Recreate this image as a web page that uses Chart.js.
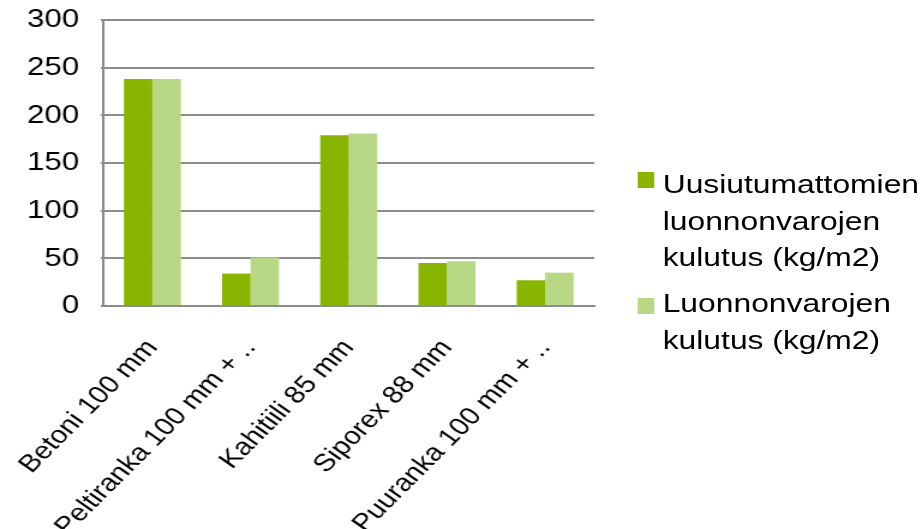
<!DOCTYPE html>
<html>
<head>
<meta charset="utf-8">
<script src="https://cdn.jsdelivr.net/npm/chart.js@4"></script>
<style>
    html, body { margin: 0; padding: 0; background: #fff; overflow: hidden; }
    #wrap {
        position: absolute; left: 0; top: 0; width: 768px; height: 529px;
        transform: scaleX(1.2005); transform-origin: 0 0;
        font-family: "Liberation Sans", Arial, sans-serif;
    }
    #wrap canvas { position: absolute; left: 0; top: 0; }
    .swatch { position: absolute; left: 531px; width: 14px; height: 16px; }
    .label { position: absolute; left: 552px; font-size: 26.5px; line-height: 36.5px; color: #000; white-space: nowrap; }
</style>
</head>
<body>
<div id="wrap">
    <canvas id="myChart" width="768" height="529"></canvas>
    <div id="legend"></div>
</div>
<script>
const categories = ["Betoni 100 mm", "Peltiranka 100 mm + ..", "Kahitiili 85 mm", "Siporex 88 mm", "Puuranka 100 mm + .."];
const seriesNames = [
    ["Uusiutumattomien", "luonnonvarojen", "kulutus (kg/m2)"],
    ["Luonnonvarojen", "kulutus (kg/m2)"]
];
const nonRenewable = [238, 34, 179, 45, 27];
const allResources = [238, 51, 181, 47, 35];
const yTicks = [0, 50, 100, 150, 200, 250, 300];
const colors = ["#89b400", "#b8d886"];

document.addEventListener("DOMContentLoaded", () => {
    const ctx = document.getElementById("myChart").getContext("2d");
    const family = "'Liberation Sans', Arial, sans-serif";
    const gridColor = "#8c8c8c";

    // keep the plot area where the original has it, labels may overflow
    const noPad = s => { s.paddingLeft = 0; s.paddingRight = 0; s.paddingTop = 0; s.paddingBottom = 0; };

    new Chart(ctx, {
        type: "bar",
        data: {
            labels: categories,
            datasets: [
                { label: seriesNames[0].join(" "), data: nonRenewable, backgroundColor: colors[0] },
                { label: seriesNames[1].join(" "), data: allResources, backgroundColor: colors[1] }
            ]
        },
        options: {
            responsive: false,
            animation: false,
            devicePixelRatio: 1,
            layout: { padding: { top: 20, right: 273, left: 0, bottom: 0 } },
            datasets: { bar: { categoryPercentage: 0.58, barPercentage: 1 } },
            plugins: {
                legend: { display: false },
                tooltip: { enabled: false }
            },
            scales: {
                x: {
                    grid: { display: false },
                    border: { display: true, color: gridColor, width: 2 },
                    ticks: { font: { family, size: 24.5 }, color: "#000", minRotation: 50, maxRotation: 50, autoSkip: false, padding: 20 },
                    afterFit: s => { s.height = 223; noPad(s); }
                },
                y: {
                    min: 0,
                    max: 300,
                    afterBuildTicks: s => { s.ticks = yTicks.map(v => ({ value: v })); },
                    grid: { color: gridColor, lineWidth: 2, tickLength: 2 },
                    border: { color: gridColor, width: 2 },
                    ticks: { font: { family, size: 26 }, color: "#000", padding: 18 },
                    afterFit: s => { s.width = 86; noPad(s); }
                }
            }
        }
    });

    // legend as html so the labels can wrap like the original
    const legend = document.getElementById("legend");
    const tops = [166, 285];
    const swatchTops = [172, 298];
    seriesNames.forEach((lines, i) => {
        const sw = document.createElement("div");
        sw.className = "swatch";
        sw.style.top = swatchTops[i] + "px";
        sw.style.background = colors[i];
        legend.appendChild(sw);
        const lb = document.createElement("div");
        lb.className = "label";
        lb.style.top = tops[i] + "px";
        lb.innerHTML = lines.join("<br>");
        legend.appendChild(lb);
    });
});
</script>
</body>
</html>
